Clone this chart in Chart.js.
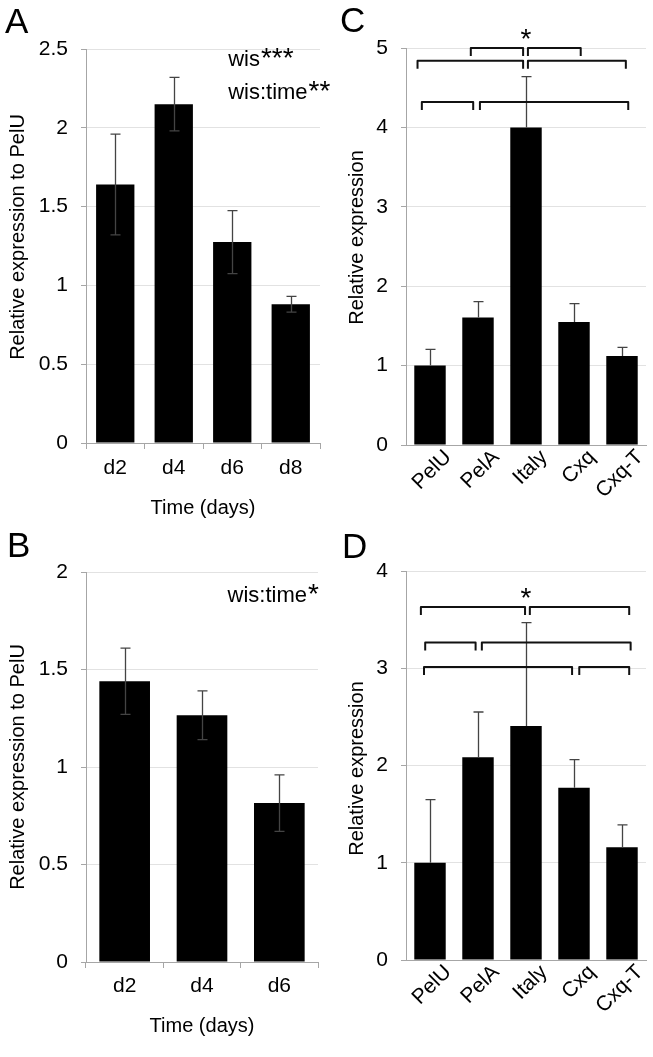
<!DOCTYPE html>
<html>
<head>
<meta charset="utf-8">
<script src="https://cdn.jsdelivr.net/npm/chart.js@4.4.1/dist/chart.umd.min.js"></script>
<style>
  html, body { margin: 0; padding: 0; background: #fff; }
  #wrap { position: relative; width: 653px; height: 1057px; overflow: hidden; }
  canvas { position: absolute; }
</style>
</head>
<body>
<div id="wrap">
  <canvas id="chartA" width="345" height="520" style="left:0;top:0"></canvas>
  <canvas id="chartB" width="345" height="537" style="left:0;top:520px"></canvas>
  <canvas id="chartC" width="327" height="520" style="left:326px;top:0"></canvas>
  <canvas id="chartD" width="327" height="537" style="left:326px;top:520px"></canvas>
</div>
<script>
// --- data ---
const daysA = ['d2', 'd4', 'd6', 'd8'];
const meanA = [1.64, 2.15, 1.275, 0.88];
const errA = [0.32, 0.17, 0.20, 0.05];
const yTicksA = [0, 0.5, 1, 1.5, 2, 2.5];

const daysB = ['d2', 'd4', 'd6'];
const meanB = [1.44, 1.265, 0.815];
const errB = [0.17, 0.125, 0.145];
const yTicksB = [0, 0.5, 1, 1.5, 2];

const strains = ['PelU', 'PelA', 'Italy', 'Cxq', 'Cxq-T'];
const meanC = [1.0, 1.605, 4.0, 1.55, 1.12];
const errC = [0.205, 0.20, 0.64, 0.23, 0.11];
const yTicksC = [0, 1, 2, 3, 4, 5];

const meanD = [1.0, 2.085, 2.405, 1.77, 1.16];
const errD = [0.65, 0.465, 1.065, 0.29, 0.23];
const yTicksD = [0, 1, 2, 3, 4];

// significance brackets: [from category, to category, level]
const bracketsC = [[0.85, 1.94, 5.0], [2.04, 3.14, 5.0], [-0.26, 1.94, 4.84], [2.04, 4.08, 4.84], [-0.17, 0.90, 4.32], [1.04, 4.13, 4.32]];
const bracketsD = [[-0.19, 1.98, 3.63], [2.08, 4.15, 3.63], [-0.10, 0.95, 3.265], [1.08, 4.18, 3.265], [-0.125, 2.96, 3.014], [3.11, 4.15, 3.014]];

const notesA = [{ text: 'wis', stars: '***', at: [1.93, 2.39] }, { text: 'wis:time', stars: '**', at: [1.93, 2.18] }];
const notesB = [{ text: 'wis:time', stars: '*', at: [1.33, 1.846] }];

const FONT = '"Liberation Sans", Arial, sans-serif';
Chart.defaults.font.family = FONT;
Chart.defaults.color = '#000';

// error bars, brackets, notes, y title and panel letter
const extras = (o) => ({
  id: 'extras',
  afterDatasetsDraw(chart) {
    const { ctx, chartArea } = chart;
    const x = chart.scales.x, y = chart.scales.y;
    const bars = chart.getDatasetMeta(0).data;
    const vals = chart.data.datasets[0].data;
    ctx.save();

    ctx.strokeStyle = '#444';
    ctx.lineWidth = 1.3;
    o.errors.forEach((e, i) => {
      const cx = Math.round(bars[i].x) + 0.5;
      const top = y.getPixelForValue(vals[i] + e);
      const bot = y.getPixelForValue(o.twoSided ? vals[i] - e : vals[i]);
      ctx.beginPath();
      ctx.moveTo(cx, bot); ctx.lineTo(cx, top);
      ctx.moveTo(cx - 5, top); ctx.lineTo(cx + 5, top);
      if (o.twoSided) { ctx.moveTo(cx - 5, bot); ctx.lineTo(cx + 5, bot); }
      ctx.stroke();
    });

    ctx.strokeStyle = '#111';
    ctx.lineWidth = 2;
    ctx.lineJoin = 'round';
    (o.brackets || []).forEach(([a, b, v]) => {
      const xa = x.getPixelForValue(a), xb = x.getPixelForValue(b), yv = y.getPixelForValue(v);
      ctx.beginPath();
      ctx.moveTo(xa, yv + 8); ctx.lineTo(xa, yv); ctx.lineTo(xb, yv); ctx.lineTo(xb, yv + 8);
      ctx.stroke();
    });

    ctx.fillStyle = '#000';
    ctx.textBaseline = 'alphabetic';
    ctx.textAlign = 'left';
    (o.notes || []).forEach(n => {
      const px = x.getPixelForValue(n.at[0]), py = y.getPixelForValue(n.at[1]);
      ctx.font = '22px ' + FONT;
      ctx.fillText(n.text, px, py);
      const w = ctx.measureText(n.text).width;
      ctx.font = '28px ' + FONT;
      ctx.fillText(n.stars, px + w + 1, py + 1);
    });

    if (o.star) {
      ctx.font = '28px ' + FONT;
      ctx.textAlign = 'center';
      ctx.fillText('*', x.getPixelForValue(o.star[0]), y.getPixelForValue(o.star[1]) + 16);
    }

    // y axis title
    ctx.save();
    ctx.font = '20px ' + FONT;
    ctx.textAlign = 'center';
    ctx.textBaseline = 'middle';
    ctx.translate(o.yTitleX, (chartArea.top + chartArea.bottom) / 2 + o.yTitleShift);
    ctx.rotate(-Math.PI / 2);
    ctx.fillText(o.yTitle, 0, 0);
    ctx.restore();

    ctx.textAlign = 'left';
    ctx.font = '35px ' + FONT;
    ctx.fillText(o.letter, o.letterPos[0], o.letterPos[1]);
    ctx.restore();
  }
});

function makePanel(id, labels, values, yTicks, p) {
  const axisGrey = '#a6a6a6';
  return new Chart(document.getElementById(id), {
    type: 'bar',
    data: {
      labels: labels,
      datasets: [{
        data: values,
        backgroundColor: '#000',
        borderWidth: 0,
        barPercentage: 0.655,
        categoryPercentage: 1
      }]
    },
    options: {
      responsive: false,
      animation: false,
      layout: { padding: { top: p.top, right: p.right, left: 0, bottom: 0 } },
      plugins: { legend: { display: false }, tooltip: { enabled: false } },
      scales: {
        x: {
          offset: true,
          grid: p.xTicks
            ? { display: true, drawOnChartArea: false, drawTicks: true, tickLength: 6, color: axisGrey, offset: true }
            : { display: false, drawTicks: false },
          border: { display: true, color: axisGrey },
          ticks: {
            font: { size: 21 },
            padding: p.xPad,
            minRotation: p.rot,
            maxRotation: p.rot,
            labelOffset: p.labelOffset || 0,
            autoSkip: false
          },
          title: p.xTitle
            ? { display: true, text: p.xTitle, font: { size: 20 }, padding: { top: 0, bottom: p.xTitlePad } }
            : { display: false },
          afterFit: s => { s.height = p.xHeight; }
        },
        y: {
          min: yTicks[0],
          max: yTicks[yTicks.length - 1],
          afterBuildTicks: s => { s.ticks = yTicks.map(v => ({ value: v })); },
          grid: { color: '#e2e2e2', tickColor: axisGrey, tickLength: 5, drawTicks: true },
          border: { display: true, color: axisGrey },
          ticks: { font: { size: 21 }, padding: 13, callback: v => String(v) },
          title: { display: false },
          afterFit: s => { s.width = p.yWidth; }
        }
      }
    },
    plugins: [extras(p.extras)]
  });
}

makePanel('chartA', daysA, meanA, yTicksA, {
  top: 49, right: 25, yWidth: 86, xHeight: 77, xTicks: true, xPad: 7, rot: 0,
  xTitle: 'Time (days)', xTitlePad: 0,
  extras: { errors: errA, twoSided: true, notes: notesA, letter: 'A', letterPos: [5, 33],
            yTitle: 'Relative expression to PelU', yTitleX: 18, yTitleShift: -9 }
});

makePanel('chartB', daysB, meanB, yTicksB, {
  top: 52, right: 27, yWidth: 86, xHeight: 95, xTicks: true, xPad: 6, rot: 0,
  xTitle: 'Time (days)', xTitlePad: 19,
  extras: { errors: errB, twoSided: true, notes: notesB, letter: 'B', letterPos: [7, 37],
            yTitle: 'Relative expression to PelU', yTitleX: 18, yTitleShift: 0 }
});

makePanel('chartC', strains, meanC, yTicksC, {
  top: 48, right: 7, yWidth: 80, xHeight: 75, xTicks: false, xPad: 0, rot: 45, labelOffset: 18,
  xTitle: null,
  extras: { errors: errC, twoSided: false, brackets: bracketsC, star: [2.0, 5.2], letter: 'C', letterPos: [14, 32],
            yTitle: 'Relative expression', yTitleX: 31, yTitleShift: -9 }
});

makePanel('chartD', strains, meanD, yTicksD, {
  top: 51, right: 7, yWidth: 80, xHeight: 97, xTicks: false, xPad: 0, rot: 45, labelOffset: 18,
  xTitle: null,
  extras: { errors: errD, twoSided: false, brackets: bracketsD, star: [2.0, 3.79], letter: 'D', letterPos: [16, 38],
            yTitle: 'Relative expression', yTitleX: 31, yTitleShift: 3 }
});
</script>
</body>
</html>
